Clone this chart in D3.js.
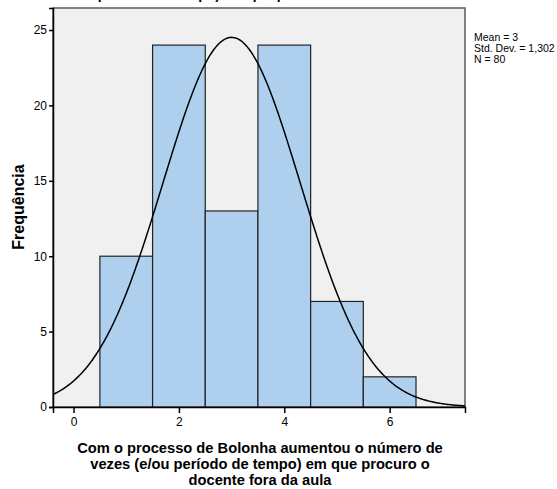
<!DOCTYPE html>
<html>
<head>
<meta charset="utf-8">
<script src="https://cdn.jsdelivr.net/npm/d3@7"></script>
<style>
body{margin:0;background:#fff;}
text{font-family:Arial,"Liberation Sans",sans-serif;}
</style>
</head>
<body>
<script>
let width = 557, height = 489;

// histogram data
let binCenters = [1,2,3,4,5,6];
let counts = [10,24,13,24,7,2];
let xTicks = [0,2,4,6];
let yTicks = [0,5,10,15,20,25];
let statLines = ['Mean = 3','Std. Dev. = 1,302','N = 80'];
let mean = 3, sd = 1.302, n = 80, binWidth = 1;
let xLabel = ['Com o processo de Bolonha aumentou o número de','vezes (e/ou período de tempo) em que procuro o','docente fora da aula'];

let plotLeft = 53, plotRight = 465, plotTop = 8, plotBottom = 407;

let svg = d3.select('body').append('svg')
    .attr('width',width).attr('height',height);

let x = d3.scaleLinear().domain([-0.39,7.43]).range([plotLeft,plotRight]);
let y = d3.scaleLinear().domain([0,26.46]).range([plotBottom,plotTop]);

// title, mostly cut off by the top edge like in the export
svg.append('text')
    .attr('x',290).attr('y',-1)
    .attr('text-anchor','middle')
    .style('font-size','14px').style('font-weight','bold')
    .text('período de tempo) em que procuro o docente fora da aula');

svg.append('rect')
    .attr('x',plotLeft).attr('y',plotTop)
    .attr('width',plotRight-plotLeft).attr('height',plotBottom-plotTop)
    .attr('fill','#f0f0f0').attr('stroke','#5a5a5a').attr('stroke-width',1.5);

let g = svg.append('g');
g.selectAll('rect.bar').data(binCenters).enter().append('rect')
    .attr('class','bar')
    .attr('x',(d)=>x(d-binWidth/2))
    .attr('width',(d)=>x(d+binWidth/2)-x(d-binWidth/2))
    .attr('y',(d,i)=>y(counts[i]))
    .attr('height',(d,i)=>y(0)-y(counts[i]))
    .attr('fill','#aed0ee').attr('stroke','#222').attr('stroke-width',1.2);

// normal curve scaled to N * bin width
let curve = d3.range(0,401).map(i=>{
    let v = -0.39 + i*(7.43+0.39)/400;
    let f = n*binWidth/(sd*Math.sqrt(2*Math.PI))*Math.exp(-0.5*Math.pow((v-mean)/sd,2));
    return [v,f];
});
svg.append('path')
    .datum(curve)
    .attr('d',d3.line().x(d=>x(d[0])).y(d=>y(d[1])))
    .attr('fill','none').attr('stroke','#000').attr('stroke-width',1.5);

// axes
let yAxis = svg.append('g').attr('transform','translate('+plotLeft+',0)')
    .call(d3.axisLeft(y).tickValues(yTicks).tickSize(4).tickPadding(2));
let xAxis = svg.append('g').attr('transform','translate(0,'+plotBottom+')')
    .call(d3.axisBottom(x).tickValues(xTicks).tickSize(6).tickPadding(4));
[yAxis,xAxis].forEach(a=>{
    a.select('.domain').attr('stroke','#000').attr('stroke-width',1.5);
    a.selectAll('.tick line').attr('stroke','#000').attr('stroke-width',1.5);
    a.selectAll('.tick text').style('font-size','12px').attr('fill','#000')
        .style('font-family','Arial,"Liberation Sans",sans-serif');
});

svg.append('text')
    .attr('transform','translate(24,207) rotate(-90)')
    .attr('text-anchor','middle')
    .style('font-size','16px').style('font-weight','bold')
    .text('Frequência');

svg.append('text')
    .attr('x',260).attr('text-anchor','middle')
    .style('font-size','14.7px').style('font-weight','bold')
    .selectAll('tspan').data(xLabel).enter().append('tspan')
    .attr('x',260).attr('y',(d,i)=>453+i*16)
    .text(d=>d);

svg.append('g').selectAll('text').data(statLines).enter().append('text')
    .attr('x',474).attr('y',(d,i)=>40.5+i*11)
    .style('font-size','10.5px')
    .text(d=>d);
</script>
</body>
</html>
